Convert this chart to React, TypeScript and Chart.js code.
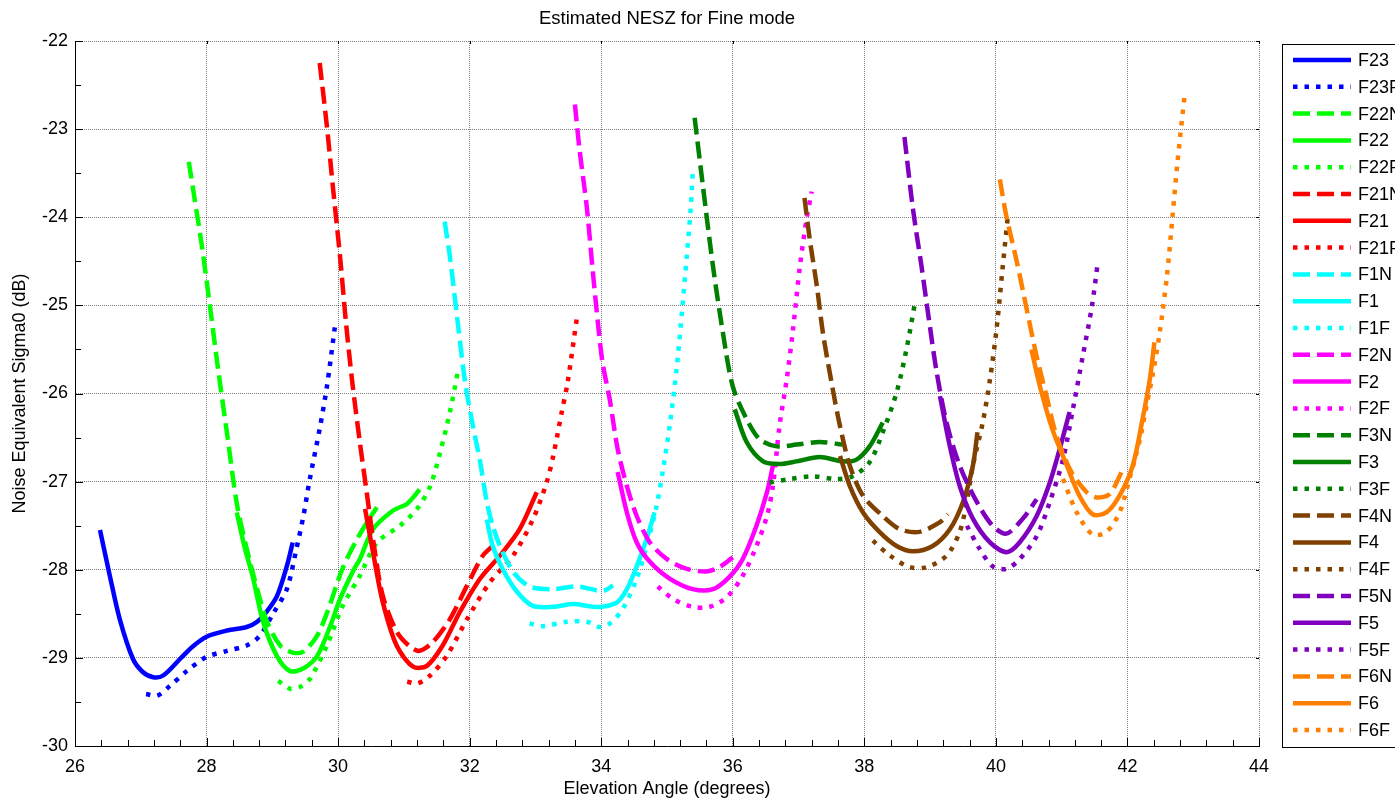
import React, { useEffect, useRef } from "react";
import { Chart, registerables } from "chart.js";
Chart.register(...registerables);

const TITLE = "Estimated NESZ for Fine mode";
const X_LABEL = "Elevation Angle (degrees)";
const Y_LABEL = "Noise Equivalent Sigma0 (dB)";
const X_MIN = 26, X_MAX = 44, X_STEP = 2;
const Y_MIN = -30, Y_MAX = -22, Y_STEP = 1;

type P = [number, number];

const F23: P[] = [[26.38,-27.55],[26.53,-28.07],[26.68,-28.56],[26.88,-29.01],[27.03,-29.16],[27.19,-29.22],[27.34,-29.20],[27.60,-29.01],[27.79,-28.87],[28.0,-28.76],[28.31,-28.69],[28.61,-28.65],[28.77,-28.59],[28.92,-28.47],[29.07,-28.30],[29.22,-27.96],[29.31,-27.69]];
const F23F: P[] = [[27.08,-29.41],[27.25,-29.43],[27.44,-29.32],[27.70,-29.15],[28.0,-28.99],[28.31,-28.92],[28.61,-28.86],[28.81,-28.75],[29.01,-28.50],[29.22,-28.22],[29.37,-27.75],[29.47,-27.40],[29.57,-26.97],[29.72,-26.40],[29.83,-25.92],[29.95,-25.25]];
const F22N: P[] = [[27.73,-23.37],[27.82,-23.80],[27.93,-24.33],[28.05,-25.0],[28.18,-25.75],[28.32,-26.5],[28.46,-27.25],[28.61,-27.76],[28.77,-28.22],[28.92,-28.59],[29.12,-28.86],[29.31,-28.94],[29.47,-28.93],[29.68,-28.75],[29.85,-28.45],[30.07,-27.98],[30.29,-27.65],[30.45,-27.45],[30.59,-27.29]];
const F22: P[] = [[28.46,-27.35],[28.58,-27.75],[28.70,-28.07],[28.86,-28.59],[29.07,-28.98],[29.27,-29.15],[29.47,-29.12],[29.68,-28.98],[29.88,-28.64],[30.03,-28.33],[30.23,-28.01],[30.33,-27.88],[30.53,-27.54],[30.83,-27.33],[31.05,-27.25],[31.24,-27.09]];
const F22F: P[] = [[29.09,-29.26],[29.27,-29.35],[29.42,-29.33],[29.57,-29.24],[29.83,-28.86],[30.07,-28.41],[30.33,-28.07],[30.59,-27.69],[30.94,-27.50],[31.20,-27.31],[31.40,-27.05],[31.55,-26.67],[31.70,-26.21],[31.82,-25.75]];
const F21N: P[] = [[29.72,-22.25],[29.83,-22.97],[29.92,-23.65],[30.03,-24.45],[30.12,-25.2],[30.22,-25.9],[30.33,-26.55],[30.44,-27.15],[30.55,-27.75],[30.68,-28.30],[30.89,-28.70],[31.09,-28.87],[31.24,-28.92],[31.44,-28.82],[31.70,-28.56],[31.96,-28.18],[32.20,-27.84],[32.35,-27.73]];
const F21: P[] = [[30.41,-27.31],[30.53,-27.80],[30.68,-28.37],[30.89,-28.86],[31.14,-29.10],[31.35,-29.09],[31.59,-28.86],[31.85,-28.48],[32.16,-28.10],[32.46,-27.84],[32.76,-27.54],[33.02,-27.12]];
const F21F: P[] = [[31.05,-29.27],[31.21,-29.29],[31.40,-29.20],[31.65,-28.98],[31.96,-28.56],[32.31,-28.14],[32.66,-27.84],[32.96,-27.43],[33.17,-27.01],[33.27,-26.71],[33.40,-26.21],[33.49,-25.87],[33.63,-25.14]];
const F1N: P[] = [[31.62,-24.05],[31.70,-24.45],[31.82,-25.2],[31.93,-25.87],[32.05,-26.37],[32.16,-26.78],[32.26,-27.23],[32.35,-27.50],[32.46,-27.73],[32.66,-28.02],[32.91,-28.19],[33.27,-28.22],[33.63,-28.19],[34.02,-28.24],[34.18,-28.18]];
const F1: P[] = [[32.26,-27.43],[32.35,-27.73],[32.50,-27.99],[32.72,-28.25],[32.96,-28.41],[33.27,-28.42],[33.57,-28.39],[33.87,-28.42],[34.02,-28.42],[34.24,-28.37],[34.39,-28.22],[34.54,-27.96],[34.69,-27.65],[34.81,-27.35]];
const F1F: P[] = [[32.91,-28.61],[33.11,-28.64],[33.48,-28.59],[33.78,-28.59],[33.98,-28.65],[34.13,-28.61],[34.33,-28.44],[34.54,-28.10],[34.69,-27.73],[34.84,-27.28],[34.94,-26.86],[35.04,-26.37],[35.15,-25.69],[35.23,-25.05],[35.30,-24.45],[35.36,-23.90],[35.39,-23.50]];
const F2N: P[] = [[33.60,-22.72],[33.67,-23.23],[33.78,-23.88],[33.87,-24.6],[33.95,-25.2],[34.02,-25.65],[34.13,-26.07],[34.25,-26.63],[34.39,-27.05],[34.54,-27.39],[34.74,-27.69],[35.0,-27.88],[35.30,-27.99],[35.60,-28.02],[35.80,-27.97],[36.0,-27.86]];
const F2: P[] = [[34.25,-26.89],[34.39,-27.35],[34.54,-27.69],[34.74,-27.91],[35.04,-28.10],[35.39,-28.22],[35.70,-28.22],[35.95,-28.08],[36.15,-27.88],[36.36,-27.50],[36.52,-27.12],[36.61,-26.82]];
const F2F: P[] = [[34.86,-28.19],[35.09,-28.33],[35.39,-28.42],[35.65,-28.42],[35.91,-28.31],[36.15,-28.07],[36.36,-27.73],[36.52,-27.39],[36.61,-27.05],[36.71,-26.37],[36.82,-25.84],[36.91,-25.31],[37.02,-24.56],[37.12,-24.03],[37.20,-23.71]];
const F3N: P[] = [[35.42,-22.87],[35.54,-23.61],[35.70,-24.56],[35.85,-25.31],[36.0,-25.92],[36.21,-26.29],[36.41,-26.52],[36.67,-26.60],[36.97,-26.58],[37.32,-26.55],[37.67,-26.58]];
const F3: P[] = [[36.03,-26.18],[36.21,-26.55],[36.46,-26.77],[36.71,-26.80],[36.97,-26.77],[37.32,-26.72],[37.67,-26.77],[37.88,-26.75],[38.08,-26.60],[38.28,-26.33]];
const F3F: P[] = [[36.56,-27.01],[36.87,-26.97],[37.22,-26.94],[37.58,-26.97],[37.82,-26.94],[38.08,-26.78],[38.28,-26.44],[38.49,-25.99],[38.64,-25.50],[38.77,-24.97]];
const F4N: P[] = [[37.09,-23.78],[37.17,-24.25],[37.28,-24.79],[37.37,-25.31],[37.50,-25.87],[37.63,-26.37],[37.78,-26.82],[37.98,-27.16],[38.28,-27.39],[38.54,-27.54],[38.84,-27.57],[39.15,-27.46],[39.27,-27.37]];
const F4: P[] = [[37.63,-26.71],[37.78,-27.05],[37.98,-27.35],[38.23,-27.57],[38.49,-27.73],[38.74,-27.79],[39.04,-27.73],[39.30,-27.54],[39.50,-27.23],[39.65,-26.82],[39.72,-26.44]];
const F4F: P[] = [[38.13,-27.67],[38.39,-27.84],[38.69,-27.97],[38.95,-27.97],[39.25,-27.84],[39.45,-27.57],[39.56,-27.22],[39.65,-26.82],[39.80,-26.33],[39.91,-25.84],[40.01,-25.27],[40.10,-24.59],[40.18,-24.00]];
const F5N: P[] = [[38.61,-23.09],[38.74,-23.91],[38.87,-24.56],[38.98,-25.15],[39.10,-25.76],[39.25,-26.33],[39.45,-26.82],[39.71,-27.23],[39.95,-27.50],[40.16,-27.59],[40.41,-27.42],[40.62,-27.20]];
const F5: P[] = [[39.15,-26.03],[39.30,-26.60],[39.45,-27.05],[39.65,-27.42],[39.91,-27.69],[40.16,-27.80],[40.36,-27.69],[40.62,-27.39],[40.82,-27.01],[40.97,-26.63],[41.12,-26.21]];
const F5F: P[] = [[39.56,-27.50],[39.75,-27.76],[39.95,-27.96],[40.16,-27.99],[40.36,-27.88],[40.62,-27.62],[40.82,-27.23],[41.02,-26.75],[41.17,-26.18],[41.32,-25.58],[41.46,-25.01],[41.55,-24.51]];
const F6N: P[] = [[40.06,-23.57],[40.16,-23.99],[40.32,-24.51],[40.47,-25.05],[40.62,-25.58],[40.77,-26.03],[40.92,-26.48],[41.14,-26.88],[41.38,-27.12],[41.53,-27.18],[41.73,-27.14],[41.93,-26.86]];
const F6: P[] = [[40.54,-25.50],[40.67,-25.92],[40.86,-26.41],[41.08,-26.82],[41.27,-27.16],[41.47,-27.37],[41.68,-27.35],[41.88,-27.16],[42.08,-26.82],[42.23,-26.29],[42.34,-25.84],[42.41,-25.42]];
const F6F: P[] = [[41.02,-26.97],[41.23,-27.35],[41.47,-27.60],[41.68,-27.57],[41.88,-27.35],[42.03,-26.97],[42.19,-26.52],[42.29,-26.14],[42.39,-25.76],[42.49,-25.31],[42.60,-24.67],[42.69,-23.95],[42.76,-23.38],[42.87,-22.61]];

const BLUE = "#0000ff", GREEN = "#00ff00", RED = "#ff0000", CYAN = "#00ffff", MAGENTA = "#ff00ff";
const DKGREEN = "#008000", BROWN = "#804000", PURPLE = "#7f00bf", ORANGE = "#ff8000";

const SOLID: number[] = [];
const DASHED = [17, 7];
const DOTTED = [4.5, 7];

const SERIES: { name: string; data: P[]; color: string; dash: number[] }[] = [
  { name: "F23", data: F23, color: BLUE, dash: SOLID },
  { name: "F23F", data: F23F, color: BLUE, dash: DOTTED },
  { name: "F22N", data: F22N, color: GREEN, dash: DASHED },
  { name: "F22", data: F22, color: GREEN, dash: SOLID },
  { name: "F22F", data: F22F, color: GREEN, dash: DOTTED },
  { name: "F21N", data: F21N, color: RED, dash: DASHED },
  { name: "F21", data: F21, color: RED, dash: SOLID },
  { name: "F21F", data: F21F, color: RED, dash: DOTTED },
  { name: "F1N", data: F1N, color: CYAN, dash: DASHED },
  { name: "F1", data: F1, color: CYAN, dash: SOLID },
  { name: "F1F", data: F1F, color: CYAN, dash: DOTTED },
  { name: "F2N", data: F2N, color: MAGENTA, dash: DASHED },
  { name: "F2", data: F2, color: MAGENTA, dash: SOLID },
  { name: "F2F", data: F2F, color: MAGENTA, dash: DOTTED },
  { name: "F3N", data: F3N, color: DKGREEN, dash: DASHED },
  { name: "F3", data: F3, color: DKGREEN, dash: SOLID },
  { name: "F3F", data: F3F, color: DKGREEN, dash: DOTTED },
  { name: "F4N", data: F4N, color: BROWN, dash: DASHED },
  { name: "F4", data: F4, color: BROWN, dash: SOLID },
  { name: "F4F", data: F4F, color: BROWN, dash: DOTTED },
  { name: "F5N", data: F5N, color: PURPLE, dash: DASHED },
  { name: "F5", data: F5, color: PURPLE, dash: SOLID },
  { name: "F5F", data: F5F, color: PURPLE, dash: DOTTED },
  { name: "F6N", data: F6N, color: ORANGE, dash: DASHED },
  { name: "F6", data: F6, color: ORANGE, dash: SOLID },
  { name: "F6F", data: F6F, color: ORANGE, dash: DOTTED },
];

const FONT = '"Liberation Sans", Arial, Helvetica, sans-serif';
const LINE_W = 4.5;

const decorPlugin = {
  id: "decor",
  afterDraw(chart: any) {
    const { ctx, chartArea: a, scales } = chart;
    const xs = scales.x, ys = scales.y;
    ctx.save();
    ctx.strokeStyle = "#000";
    ctx.lineWidth = 1;
    ctx.beginPath();
    for (let i = 0; i <= Math.round((X_MAX - X_MIN) / 0.4); i++) {
      const px = Math.round(xs.getPixelForValue(X_MIN + i * 0.4)) + 0.5;
      ctx.moveTo(px, a.bottom);
      ctx.lineTo(px, a.bottom - 6);
    }
    for (let i = 0; i <= Math.round((Y_MAX - Y_MIN) / 0.5); i++) {
      const py = Math.round(ys.getPixelForValue(Y_MIN + i * 0.5)) + 0.5;
      ctx.moveTo(a.left, py);
      ctx.lineTo(a.left + 6, py);
    }
    for (let v = X_MIN; v <= X_MAX; v += X_STEP) {
      const px = Math.round(xs.getPixelForValue(v)) + 0.5;
      ctx.moveTo(px, a.top);
      ctx.lineTo(px, a.top + 3);
      ctx.moveTo(px, a.bottom);
      ctx.lineTo(px, a.bottom - 8);
    }
    for (let v = Y_MIN; v <= Y_MAX; v += Y_STEP) {
      const py = Math.round(ys.getPixelForValue(v)) + 0.5;
      ctx.moveTo(a.right, py);
      ctx.lineTo(a.right - 3, py);
      ctx.moveTo(a.left, py);
      ctx.lineTo(a.left + 8, py);
    }
    ctx.stroke();

    ctx.fillStyle = "#000";
    ctx.textAlign = "center";
    ctx.textBaseline = "middle";
    const cx = (a.left + a.right) / 2;
    ctx.font = `18.5px ${FONT}`;
    ctx.fillText(TITLE, cx, 19);
    ctx.font = `18px ${FONT}`;
    ctx.fillText(X_LABEL, cx, 789);
    ctx.save();
    ctx.translate(20, (a.top + a.bottom) / 2);
    ctx.rotate(-Math.PI / 2);
    ctx.fillText(Y_LABEL, 0, 0);
    ctx.restore();

    const lx = 1282, ly = 44, lb = 747;
    ctx.fillStyle = "#fff";
    ctx.fillRect(lx, ly, 200, lb - ly);
    ctx.strokeStyle = "#000";
    ctx.lineWidth = 1;
    ctx.strokeRect(lx + 0.5, ly + 0.5, 200, lb - ly);
    const step = (730 - 60) / (SERIES.length - 1);
    ctx.textAlign = "left";
    ctx.font = `18px ${FONT}`;
    SERIES.forEach((s, i) => {
      const y = 60 + i * step;
      ctx.save();
      ctx.strokeStyle = s.color;
      ctx.lineWidth = LINE_W;
      ctx.lineCap = "butt";
      ctx.setLineDash(s.dash);
      ctx.beginPath();
      ctx.moveTo(1293, y);
      ctx.lineTo(1351, y);
      ctx.stroke();
      ctx.restore();
      ctx.fillStyle = "#000";
      ctx.fillText(s.name, 1358, y + 1);
    });
    ctx.restore();
  },
};

export default function App() {
  const ref = useRef<HTMLCanvasElement | null>(null);
  useEffect(() => {
    document.body.style.margin = "0";
    const canvas = ref.current;
    if (!canvas) return;
    Chart.defaults.font.family = FONT;
    const chart = new Chart(canvas, {
      type: "line",
      data: {
        datasets: SERIES.map((s, i) => ({
          label: s.name,
          data: s.data.map(([x, y]) => ({ x, y })),
          borderColor: s.color,
          backgroundColor: s.color,
          borderWidth: LINE_W,
          borderDash: s.dash,
          borderCapStyle: "butt",
          pointRadius: 0,
          fill: false,
          tension: 0.3,
          order: -i,
        })),
      },
      options: {
        animation: false,
        responsive: false,
        maintainAspectRatio: false,
        layout: { padding: { top: 41, right: 136, left: 0, bottom: 0 } },
        plugins: { legend: { display: false }, tooltip: { enabled: false }, title: { display: false } },
        scales: {
          x: {
            type: "linear",
            min: X_MIN,
            max: X_MAX,
            afterFit: (s: any) => { s.height = 53; },
            ticks: { stepSize: X_STEP, color: "#000", font: { size: 18 }, padding: 10, maxRotation: 0, autoSkip: false },
            grid: { color: "rgba(0,0,0,0.5)", lineWidth: 1, drawTicks: false },
            border: { display: true, color: "#000", width: 1, dash: [1, 1] },
          },
          y: {
            type: "linear",
            min: Y_MIN,
            max: Y_MAX,
            afterFit: (s: any) => { s.width = 75; },
            ticks: { stepSize: Y_STEP, color: "#000", font: { size: 18 }, padding: 7 },
            grid: { color: "rgba(0,0,0,0.5)", lineWidth: 1, drawTicks: false },
            border: { display: true, color: "#000", width: 1, dash: [1, 1] },
          },
        },
      },
      plugins: [decorPlugin],
    } as any);
    return () => chart.destroy();
  }, []);
  return <canvas ref={ref} width={1395} height={799} style={{ display: "block" }} />;
}
